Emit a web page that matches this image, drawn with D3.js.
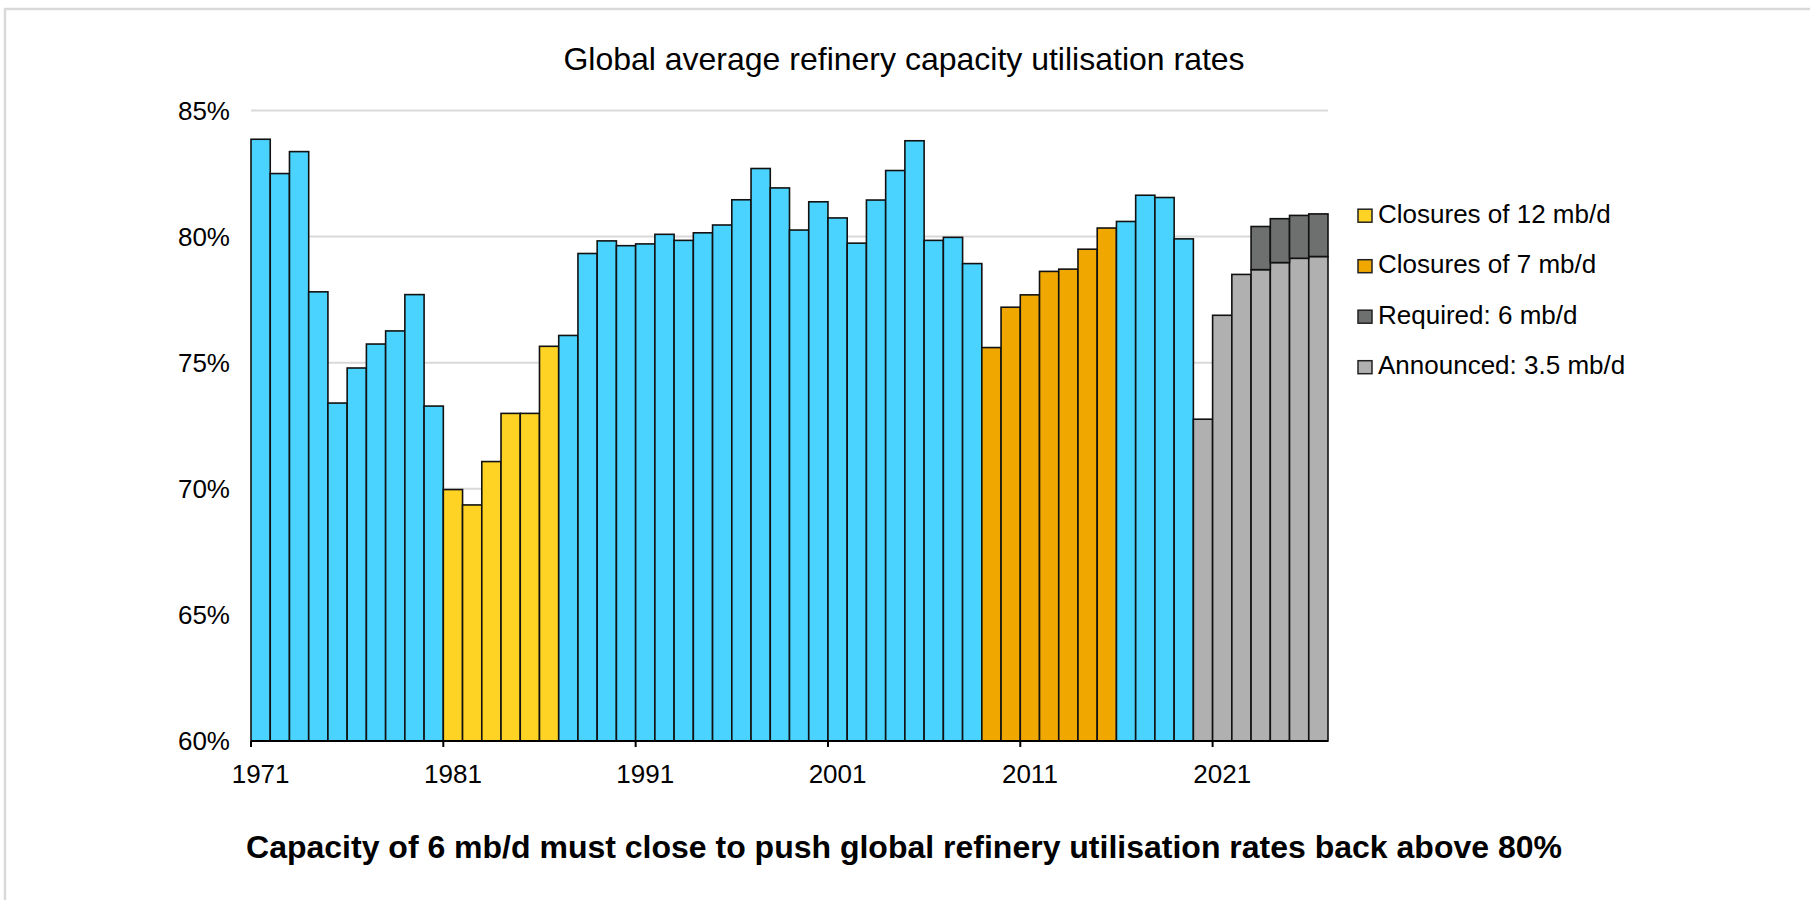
<!DOCTYPE html>
<html>
<head>
<meta charset="utf-8">
<script src="https://cdn.jsdelivr.net/npm/d3@7"></script>
<style>
  html, body { margin: 0; padding: 0; background: #fff; }
  svg { display: block; font-family: "Liberation Sans", Arial, sans-serif; }
</style>
</head>
<body>
<svg id="chart" width="1810" height="900"></svg>
<script>
// ---- data ----
const years = [1971,1972,1973,1974,1975,1976,1977,1978,1979,1980,
  1981,1982,1983,1984,1985,1986,1987,1988,1989,1990,
  1991,1992,1993,1994,1995,1996,1997,1998,1999,2000,
  2001,2002,2003,2004,2005,2006,2007,2008,2009,2010,
  2011,2012,2013,2014,2015,2016,2017,2018,2019,2020,
  2021,2022,2023,2024,2025,2026];

const utilisation = [83.86,82.50,83.37,77.81,73.40,74.79,75.74,76.26,77.70,73.28,
  69.97,69.36,71.08,72.99,72.99,75.65,76.08,79.33,79.83,79.64,
  79.71,80.09,79.85,80.15,80.46,81.46,82.70,81.93,80.26,81.38,
  80.74,79.74,81.45,82.62,83.80,79.85,79.97,78.93,75.60,77.20,
  77.69,78.62,78.71,79.50,80.34,80.60,81.64,81.55,79.91,72.76,
  76.88,78.50,78.69,78.97,79.14,79.21];

// series each bar belongs to
const category = ["H","H","H","H","H","H","H","H","H","H",
  "C12","C12","C12","C12","C12","C12","H","H","H","H",
  "H","H","H","H","H","H","H","H","H","H",
  "H","H","H","H","H","H","H","H","C7","C7",
  "C7","C7","C7","C7","C7","H","H","H","H","A",
  "A","A","A","A","A","A"];

// utilisation after the required closures (top of the dark segment)
const requiredYears = [2023, 2024, 2025, 2026];
const requiredTop = [80.40, 80.71, 80.84, 80.90];

const yTicks = [60, 65, 70, 75, 80, 85];
const xTickYears = [1971, 1981, 1991, 2001, 2011, 2021];

const legendKeys = ["C12", "C7", "R", "A"];
const legendLabels = ["Closures of 12 mb/d", "Closures of 7 mb/d", "Required: 6 mb/d", "Announced: 3.5 mb/d"];

const titleText = "Global average refinery capacity utilisation rates";
const footText = "Capacity of 6 mb/d must close to push global refinery utilisation rates back above 80%";

// ---- styles ----
const colors = { H: "#4AD3FE", C12: "#FFD324", C7: "#F0A800", R: "#6E7070", A: "#B0B0B0" };

const svg = d3.select("#chart");

// outer frame
svg.append("rect")
  .attr("x", 5).attr("y", 9).attr("width", 1900).attr("height", 1000)
  .attr("fill", "none").attr("stroke", "#d9d9d9").attr("stroke-width", 2.5);

const plotL = 251, plotR = 1328, plotT = 110.5, plotB = 741;

const x = d3.scaleBand().domain(years).range([plotL, plotR]).padding(0);
const y = d3.scaleLinear().domain([60, 85]).range([plotB, plotT]);

// gridlines
svg.append("g").selectAll("line")
  .data(yTicks.filter(d => d > 60))
  .join("line")
  .attr("x1", plotL).attr("x2", plotR)
  .attr("y1", d => y(d)).attr("y2", d => y(d))
  .attr("stroke", "#d9d9d9").attr("stroke-width", 2);

// y labels
svg.append("g").selectAll("text")
  .data(yTicks)
  .join("text")
  .attr("x", 230).attr("y", d => y(d))
  .attr("dy", "0.35em")
  .attr("text-anchor", "end")
  .attr("font-size", 26)
  .attr("fill", "#000")
  .text(d => d + "%");

// bars
const barData = years.map((yr, i) => ({ year: yr, value: utilisation[i], cat: category[i] }));
svg.append("g").selectAll("rect")
  .data(barData)
  .join("rect")
  .attr("x", d => x(d.year))
  .attr("width", x.bandwidth())
  .attr("y", d => y(d.value))
  .attr("height", d => y(60) - y(d.value))
  .attr("fill", d => colors[d.cat])
  .attr("stroke", "#111")
  .attr("stroke-width", 1.6);

// required stacked segments
const reqData = requiredYears.map((yr, i) => ({
  year: yr, base: utilisation[years.indexOf(yr)], topVal: requiredTop[i]
}));
svg.append("g").selectAll("rect")
  .data(reqData)
  .join("rect")
  .attr("x", d => x(d.year))
  .attr("width", x.bandwidth())
  .attr("y", d => y(d.topVal))
  .attr("height", d => y(d.base) - y(d.topVal))
  .attr("fill", colors.R)
  .attr("stroke", "#111")
  .attr("stroke-width", 1.6);

// x axis line
svg.append("line")
  .attr("x1", plotL).attr("x2", plotR)
  .attr("y1", plotB).attr("y2", plotB)
  .attr("stroke", "#000").attr("stroke-width", 2);

// x ticks at left edge of decade bars
svg.append("g").selectAll("line")
  .data(xTickYears)
  .join("line")
  .attr("x1", d => x(d)).attr("x2", d => x(d))
  .attr("y1", plotB).attr("y2", plotB + 6)
  .attr("stroke", "#000").attr("stroke-width", 2);

// x labels centred on bars
svg.append("g").selectAll("text")
  .data(xTickYears)
  .join("text")
  .attr("x", d => x(d) + x.bandwidth() / 2)
  .attr("y", 783)
  .attr("text-anchor", "middle")
  .attr("font-size", 26)
  .attr("fill", "#000")
  .text(d => d);

// title
svg.append("text")
  .attr("x", 904).attr("y", 70)
  .attr("text-anchor", "middle")
  .attr("font-size", 32)
  .attr("fill", "#000")
  .text(titleText);

// footer
svg.append("text")
  .attr("x", 904).attr("y", 858)
  .attr("text-anchor", "middle")
  .attr("font-size", 32)
  .attr("font-weight", "bold")
  .attr("fill", "#000")
  .text(footText);

// legend
const lg = svg.append("g").selectAll("g")
  .data(legendKeys)
  .join("g")
  .attr("transform", (d, i) => `translate(1358, ${222.7 + i * 50.5})`);
lg.append("rect")
  .attr("x", 0).attr("y", -13.5).attr("width", 14).attr("height", 13)
  .attr("fill", d => colors[d])
  .attr("stroke", "#222").attr("stroke-width", 1.5);
lg.append("text")
  .attr("x", 20).attr("y", 0)
  .attr("font-size", 26)
  .attr("fill", "#000")
  .text((d, i) => legendLabels[i]);
</script>
</body>
</html>
